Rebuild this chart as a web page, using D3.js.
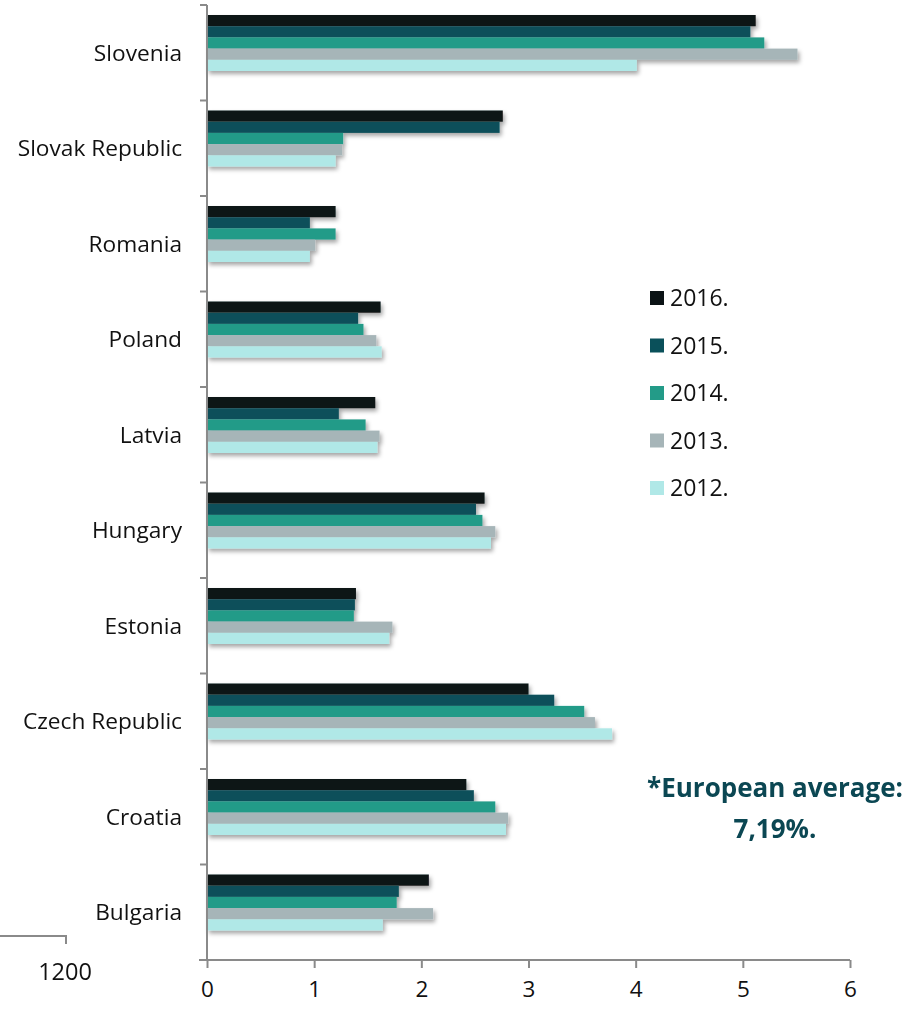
<!DOCTYPE html>
<html>
<head>
<meta charset="utf-8">
<script src="https://cdn.jsdelivr.net/npm/d3@7"></script>
<style>
  html, body { margin: 0; padding: 0; background: #ffffff; }
  svg { display: block; }
  text { font-family: "Open Sans", "Noto Sans", sans-serif; }
</style>
</head>
<body>
<svg id="chart" width="913" height="1009"></svg>
<script>
// Countries, drawn top to bottom
const countries = ["Slovenia", "Slovak Republic", "Romania", "Poland", "Latvia",
                   "Hungary", "Estonia", "Czech Republic", "Croatia", "Bulgaria"];

// Years, in bar order inside each group (top to bottom)
const years = ["2016.", "2015.", "2014.", "2013.", "2012."];

// Values per year, aligned with countries
const v2016 = [5.12, 2.76, 1.20, 1.62, 1.57, 2.59, 1.39, 3.00, 2.42, 2.07];
const v2015 = [5.07, 2.73, 0.96, 1.41, 1.23, 2.51, 1.38, 3.24, 2.49, 1.79];
const v2014 = [5.20, 1.27, 1.20, 1.46, 1.48, 2.57, 1.37, 3.52, 2.69, 1.77];
const v2013 = [5.51, 1.26, 1.01, 1.58, 1.61, 2.69, 1.73, 3.62, 2.81, 2.11];
const v2012 = [4.01, 1.20, 0.96, 1.63, 1.59, 2.65, 1.70, 3.78, 2.79, 1.64];

const seriesValues = [v2016, v2015, v2014, v2013, v2012];
const xTicks = [0, 1, 2, 3, 4, 5, 6];
const colors = ["#0b1315", "#0a505a", "#239b88", "#a6b5b8", "#b0e8e7"];

const noteLines = ["*European average:", "7,19%."];
const strayLabel = "1200";

const svg = d3.select("#chart");

// Soft drop shadow under the bars
const defs = svg.append("defs");
const f = defs.append("filter").attr("id", "barShadow")
  .attr("x", "-5%").attr("y", "-30%").attr("width", "115%").attr("height", "180%");
f.append("feDropShadow").attr("dx", 2).attr("dy", 3).attr("stdDeviation", 2)
  .attr("flood-color", "#000").attr("flood-opacity", 0.35);

const plot = { left: 207, right: 850, top: 5, bottom: 960 };

const x = d3.scaleLinear().domain([0, 6]).range([plot.left, plot.right]);
const y = d3.scaleBand().domain(countries).range([plot.top, plot.bottom]);

// Bars sit in the upper part of each category band
const groupOffset = 10;
const groupHeight = 56;
const inner = d3.scaleBand().domain(years).range([0, groupHeight]);

const rows = countries.map((c, i) => ({
  country: c,
  bars: years.map((yr, k) => ({ year: yr, value: seriesValues[k][i], color: colors[k] }))
}));

const barsLayer = svg.append("g").attr("filter", "url(#barShadow)");
barsLayer.selectAll("g.group")
  .data(rows)
  .join("g")
  .attr("class", "group")
  .attr("transform", d => `translate(0,${y(d.country) + groupOffset})`)
  .selectAll("rect")
  .data(d => d.bars)
  .join("rect")
  .attr("x", x(0))
  .attr("y", d => inner(d.year))
  .attr("width", d => x(d.value) - x(0))
  .attr("height", inner.bandwidth())
  .attr("fill", d => d.color);

const labelFont = "'Open Sans', 'Noto Sans', sans-serif";

// X axis
const xAxis = svg.append("g")
  .attr("transform", `translate(0,${plot.bottom})`)
  .call(d3.axisBottom(x).tickValues(xTicks).tickFormat(d3.format("d")).tickSize(8).tickSizeOuter(0));
xAxis.select(".domain").attr("stroke", "#8a8a8a").attr("stroke-width", 2)
  .attr("d", `M${plot.left - 8},0H${plot.right}`);
xAxis.selectAll(".tick line").attr("stroke", "#8a8a8a").attr("stroke-width", 2);
xAxis.selectAll(".tick text").attr("fill", "#111").attr("font-size", 22.5).attr("y", 36.5).attr("dy", "0")
  .style("font-family", labelFont);

// Y axis: line with ticks on category boundaries
const yAxisG = svg.append("g");
yAxisG.append("line")
  .attr("x1", plot.left).attr("x2", plot.left)
  .attr("y1", plot.top).attr("y2", plot.bottom)
  .attr("stroke", "#8a8a8a").attr("stroke-width", 2);
const boundaries = countries.map(c => y(c));
yAxisG.selectAll("line.bound")
  .data(boundaries)
  .join("line")
  .attr("class", "bound")
  .attr("x1", plot.left - 7).attr("x2", plot.left)
  .attr("y1", d => d).attr("y2", d => d)
  .attr("stroke", "#8a8a8a").attr("stroke-width", 2);

yAxisG.selectAll("text.cat")
  .data(countries)
  .join("text")
  .attr("class", "cat")
  .attr("x", 182)
  .attr("y", d => y(d) + y.bandwidth() / 2)
  .attr("dy", "0.35em")
  .attr("text-anchor", "end")
  .attr("font-size", 22.7)
  .attr("fill", "#111")
  .text(d => d);

// Legend
const legend = svg.append("g").attr("transform", "translate(650,298)");
const li = legend.selectAll("g").data(years).join("g")
  .attr("transform", (d, i) => `translate(0,${i * 47.5})`);
li.append("rect").attr("x", 0).attr("y", -7).attr("width", 14).attr("height", 14)
  .attr("fill", (d, i) => colors[i]);
li.append("text").attr("x", 20).attr("y", 0).attr("dy", "0.36em")
  .attr("font-size", 23).attr("fill", "#111").text(d => d);

// Note about the European average
svg.append("g").selectAll("text")
  .data(noteLines)
  .join("text")
  .attr("x", 775)
  .attr("y", (d, i) => 788 + i * 41)
  .attr("dy", "0.35em")
  .attr("text-anchor", "middle")
  .attr("font-size", 26)
  .attr("font-weight", "bold")
  .attr("fill", "#0b4753")
  .text(d => d);

// Fragment of a neighbouring axis at the lower left
svg.append("path")
  .attr("d", "M0,936H66V944")
  .attr("fill", "none").attr("stroke", "#8a8a8a").attr("stroke-width", 2);
svg.append("text")
  .attr("x", 65).attr("y", 972).attr("dy", "0.35em")
  .attr("text-anchor", "middle").attr("font-size", 23.5).attr("fill", "#111")
  .text(strayLabel);
</script>
</body>
</html>
